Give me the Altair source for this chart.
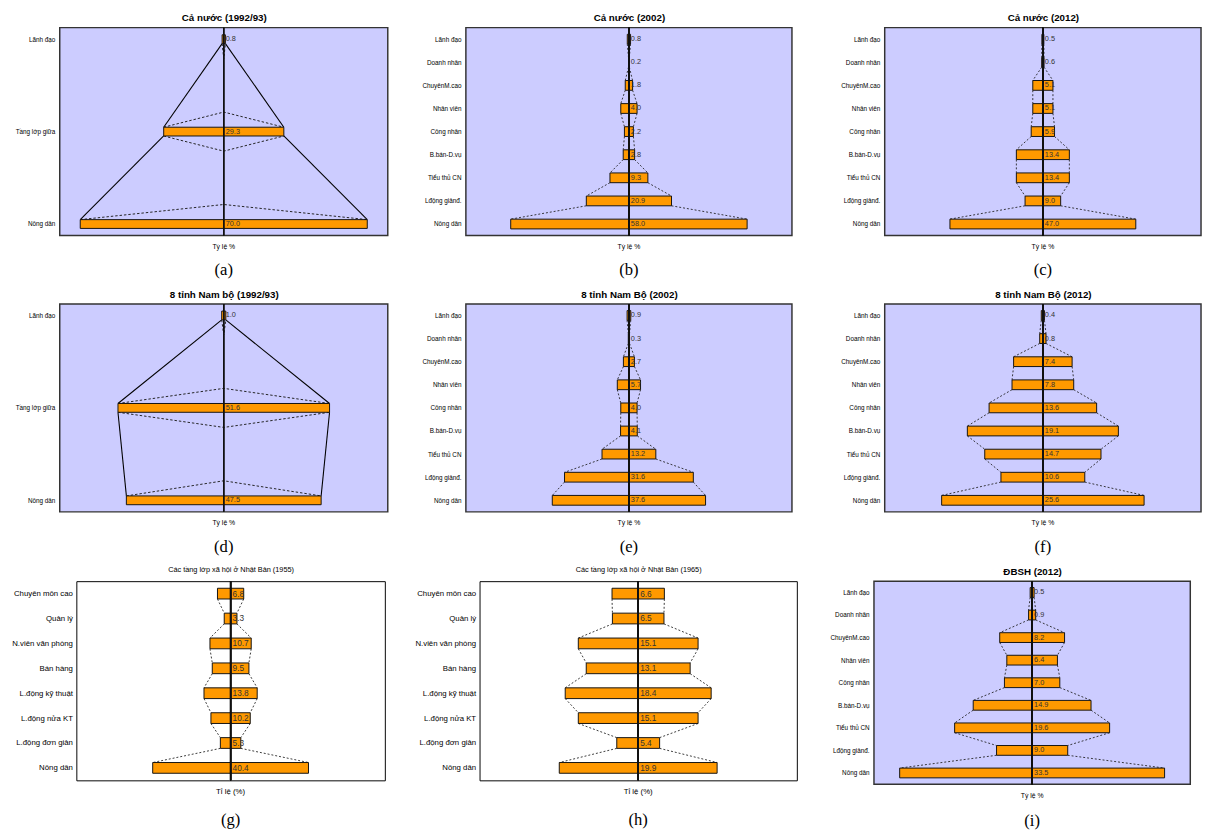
import json
import altair as alt
import pandas as pd

# ---------------- data ----------------
cat3 = ["Lãnh đạo", "Tầng lớp giữa", "Nông dân"]
cat9 = ["Lãnh đạo", "Doanh nhân", "ChuyênM.cao", "Nhân viên", "Công nhân",
        "B.bán-D.vụ", "Tiểu thủ CN", "Lđộng giảnđ.", "Nông dân"]
cat_jp = ["Chuyên môn cao", "Quản lý", "N.viên văn phòng", "Bán hàng",
          "L.động kỹ thuật", "L.động nửa KT", "L.động đơn giản", "Nông dân"]

val_a = [0.8, 29.3, 70.0]
val_b = [0.8, 0.2, 1.8, 4.0, 2.2, 2.8, 9.3, 20.9, 58.0]
val_c = [0.5, 0.6, 5.1, 5.1, 5.9, 13.4, 13.4, 9.0, 47.0]
val_d = [1.0, 51.6, 47.5]
val_e = [0.9, 0.3, 2.7, 5.7, 4.0, 4.1, 13.2, 31.6, 37.6]
val_f = [0.4, 0.8, 7.4, 7.8, 13.6, 19.1, 14.7, 10.6, 25.6]
val_g = [6.8, 3.3, 10.7, 9.5, 13.8, 10.2, 5.3, 40.4]
val_h = [6.6, 6.5, 15.1, 13.1, 18.4, 15.1, 5.4, 19.9]
val_i = [0.5, 0.9, 8.2, 6.4, 7.0, 14.9, 19.6, 9.0, 33.5]

titles = ["Cả nước (1992/93)", "Cả nước (2002)", "Cả nước (2012)",
          "8 tỉnh Nam bộ (1992/93)", "8 tỉnh Nam Bộ (2002)", "8 tỉnh Nam Bộ (2012)",
          "Các tầng lớp xã hội ở Nhật Bản (1955)", "Các tầng lớp xã hội ở Nhật Bản (1965)",
          "ĐBSH (2012)"]
captions = ["(a)", "(b)", "(c)", "(d)", "(e)", "(f)", "(g)", "(h)", "(i)"]
x_titles = ["Tỷ lệ %"] * 6 + ["Tỉ lệ (%)", "Tỉ lệ (%)", "Tỷ lệ %"]
x_limits = [40, 40, 40, 40, 40, 20, 40, 20, 20]

SANS = "Liberation Sans"
SERIF = "Liberation Serif"

VN = dict(bg="#ccccff", border="#333333", bw=1.5, label_fs=6.5, value_fs=7.5,
          title_fs=10, title_fw="bold", xt_fs=7, bar_px=10, title_pad=5, label_pad=5)
JP = dict(bg="white", border="black", bw=1.0, label_fs=8, value_fs=8.5,
          title_fs=7.5, title_fw="normal", xt_fs=8, bar_px=11, title_pad=8, label_pad=4)


def panel(k, cats, vals, width, height, st, cap_pad=13):
    title, caption, xtitle, xmax = titles[k], captions[k], x_titles[k], x_limits[k]
    n = len(cats)
    pad = 0.125 if n == 3 else 0.5
    step = height / (n - 1 + 2 * pad)
    bar_px = 9 if n == 3 else st["bar_px"]
    hb = bar_px / 2 / step
    idx = list(range(n))

    bars = pd.DataFrame({"cat": cats, "i": idx, "v": vals})
    bars["lo"] = -bars["v"] / 2
    bars["hi"] = bars["v"] / 2
    bars["y1"] = bars["i"] - hb
    bars["y2"] = bars["i"] + hb
    bars["c"] = 0.0

    rows = []
    for j in range(n - 1):
        for side in (-1, 1):
            seg = f"{j}_{side}"
            rows.append(dict(seg=seg, o=0, x=side * vals[j] / 2, y=j + hb))
            rows.append(dict(seg=seg, o=1, x=side * vals[j + 1] / 2, y=j + 1 - hb))
    conn = pd.DataFrame(rows)

    xs = alt.Scale(domain=[-xmax, xmax], nice=False, zero=False)
    ys = alt.Scale(domain=[-pad, n - 1 + pad], reverse=True, nice=False, zero=False)

    label_expr = json.dumps(cats, ensure_ascii=False) + "[datum.value]"
    y_axis = alt.Axis(values=idx, labelExpr=label_expr, title=None, ticks=False,
                      domain=False, grid=False, labelFontSize=st["label_fs"],
                      labelFont=SANS, labelColor="black", labelPadding=st["label_pad"])
    x_axis = alt.Axis(orient="top", title=title, labels=False, ticks=False,
                      domain=False, grid=False, titleFont=SANS,
                      titleFontSize=st["title_fs"], titleFontWeight=st["title_fw"],
                      titleColor="black", titlePadding=st["title_pad"],
                      minExtent=0, maxExtent=0)

    def X(f):
        return alt.X(f, scale=xs, axis=x_axis, title=title)

    def Y(f):
        return alt.Y(f, scale=ys, axis=y_axis, title=None)

    layers = []
    if n == 3:
        layers.append(alt.Chart(conn).mark_line(color="black", strokeWidth=1.1).encode(
            x=X("x:Q"), y=Y("y:Q"), detail="seg:N", order="o:Q"))
        pk = 20 / step
        drows = []
        for j in range(1, n):
            v = vals[j]
            drows += [dict(seg=f"r{j}", o=0, x=-v / 2, y=j - hb),
                      dict(seg=f"r{j}", o=1, x=0.0, y=j - pk),
                      dict(seg=f"r{j}", o=2, x=v / 2, y=j - hb)]
        for j in range(n - 1):
            v = vals[j]
            drows += [dict(seg=f"v{j}", o=0, x=-v / 2, y=j + hb),
                      dict(seg=f"v{j}", o=1, x=0.0, y=j + pk),
                      dict(seg=f"v{j}", o=2, x=v / 2, y=j + hb)]
        deco = pd.DataFrame(drows)
        layers.append(alt.Chart(deco).mark_line(color="#222222", strokeWidth=1,
                                                 strokeDash=[2.5, 2]).encode(
            x=X("x:Q"), y=Y("y:Q"), detail="seg:N", order="o:Q"))
    else:
        layers.append(alt.Chart(conn).mark_line(color="#222222", strokeWidth=0.9,
                                                 strokeDash=[2, 2]).encode(
            x=X("x:Q"), y=Y("y:Q"), detail="seg:N", order="o:Q"))

    layers.append(alt.Chart(bars).mark_rect(fill="#ff9900", stroke="#111111",
                                            strokeWidth=1).encode(
        x=X("lo:Q"), x2="hi:Q", y=Y("y1:Q"), y2="y2:Q"))

    layers.append(alt.Chart(bars).mark_rule(color="#111111", strokeWidth=1.3).encode(
        x=X("c:Q")))

    layers.append(alt.Chart(bars).mark_text(align="left", baseline="middle", dx=2,
                                            fontSize=st["value_fs"], font=SANS,
                                            color="#333333").encode(
        x=X("c:Q"), y=Y("i:Q"), text=alt.Text("v:Q", format=".1f")))

    return alt.layer(*layers).properties(
        width=width, height=height,
        view=alt.ViewBackground(fill=st["bg"], stroke=st["border"], strokeWidth=st["bw"]),
        title=alt.TitleParams(text=xtitle, subtitle=caption, orient="bottom",
                              anchor="middle", frame="group", font=SANS,
                              fontSize=st["xt_fs"], fontWeight="normal", color="black",
                              subtitleFont=SERIF, subtitleFontSize=17,
                              subtitleColor="black", subtitlePadding=cap_pad, offset=7))


def gap(w):
    # empty layout spacer (no marks, no axes)
    return alt.Chart(pd.DataFrame({"s": pd.Series([], dtype=float)})).mark_point().encode(
        x=alt.X("s:Q", axis=None), y=alt.Y("s:Q", axis=None)
    ).properties(width=w, height=1,
                 view=alt.ViewBackground(stroke="transparent", fill="transparent"))


H = 213
pa = panel(0, cat3, val_a, 336, H, VN)
pb = panel(1, cat9, val_b, 334, H, VN)
pc = panel(2, cat9, val_c, 324, H, VN)
pd_ = panel(3, cat3, val_d, 336, H, VN)
pe = panel(4, cat9, val_e, 334, H, VN)
pf = panel(5, cat9, val_f, 324, H, VN)
pg = panel(6, cat_jp, val_g, 316, 204, JP, cap_pad=17)
ph = panel(7, cat_jp, val_h, 325, 204, JP, cap_pad=17)
pi = panel(8, cat9, val_i, 324, 208, VN, cap_pad=15)

row1 = alt.hconcat(gap(4), pa, gap(31), pb, gap(46), pc, spacing=0)
row2 = alt.hconcat(gap(4), pd_, gap(31), pe, gap(46), pf, spacing=0)
row3 = alt.hconcat(gap(1), pg, gap(27), ph, gap(30), pi, spacing=0)

chart = alt.vconcat(row1, row2, row3, spacing=9).properties(
    padding={"left": 0, "top": -6, "right": 0, "bottom": 0},
    background="white",
)

chart.save("out.html", embed_options={"renderer": "svg", "actions": False})
